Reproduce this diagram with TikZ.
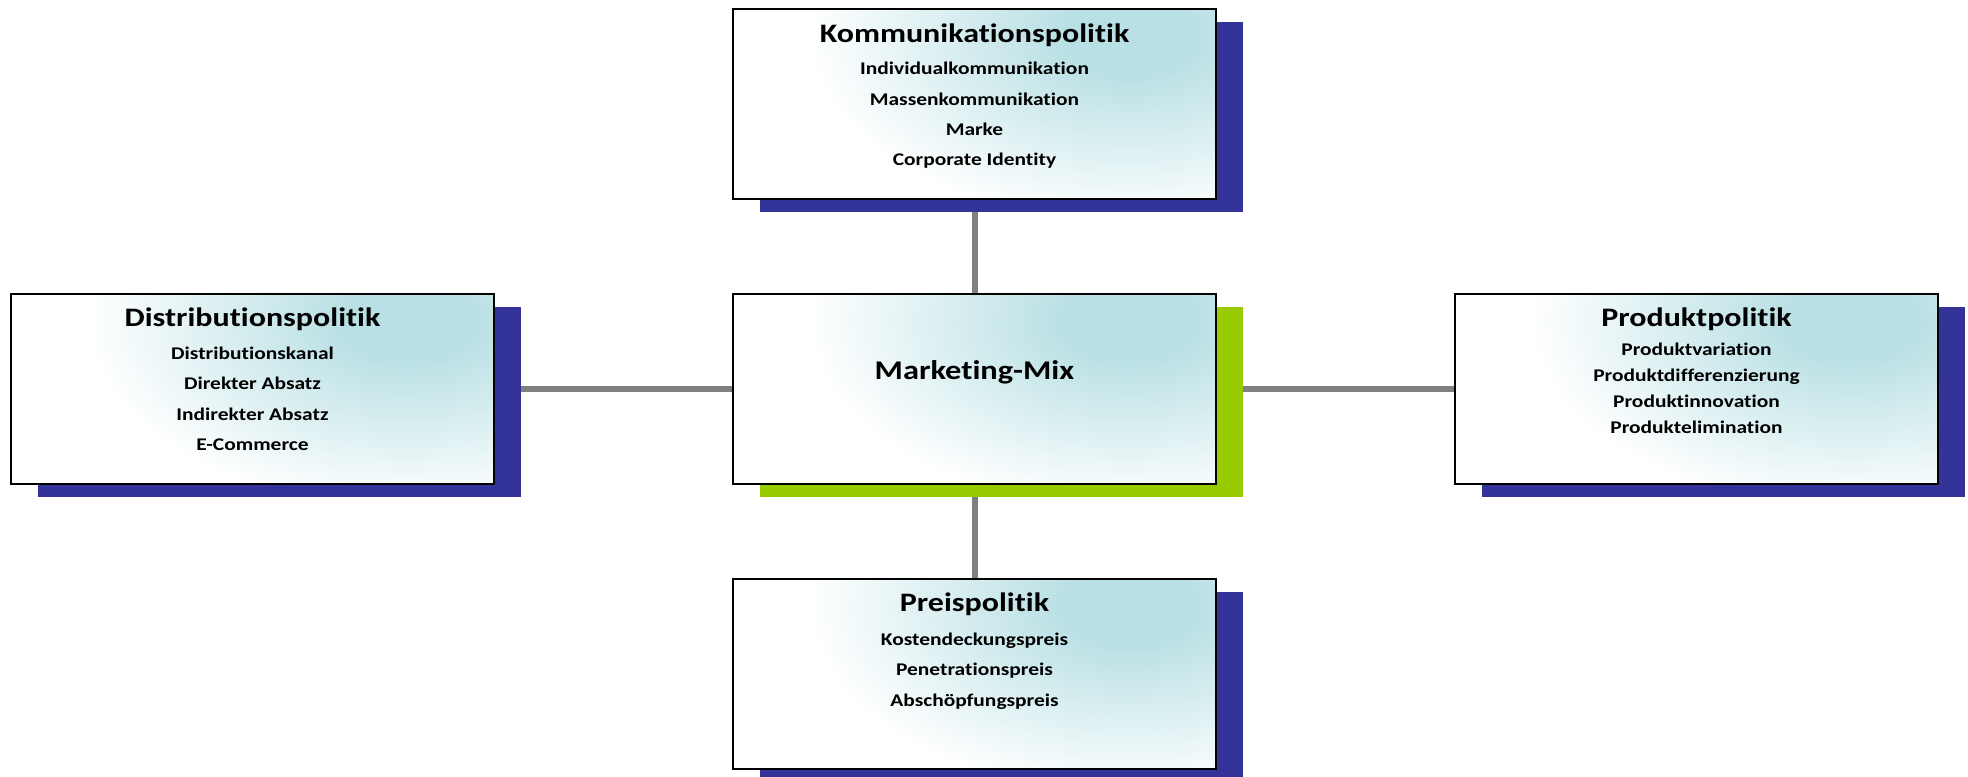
\documentclass[tikz,border=0pt]{standalone}
\usepackage{fontspec}
\setmainfont{Carlito}[FakeStretch=1.2, Ligatures=NoCommon]
\usetikzlibrary{positioning, shadows, backgrounds}
\definecolor{shadowblue}{RGB}{51,51,153}
\definecolor{mixgreen}{RGB}{153,204,0}
\definecolor{glowteal}{RGB}{185,224,228}
\definecolor{linkgray}{RGB}{128,128,128}
\pgfdeclareradialshading{boxglow}{\pgfpointorigin}{color(0bp)=(glowteal); color(4bp)=(glowteal); color(20bp)=(white); color(50bp)=(white)}

\begin{document}
\begin{tikzpicture}[x=0.75pt, y=-0.75pt,
	box/.style={draw=black, fill=white, line width=1.5pt, minimum width=362.25pt, minimum height=142.5pt, inner sep=0pt,
		path picture={\shade[shading=boxglow] ([xshift=-65pt, yshift=-20pt]path picture bounding box.north east) ellipse (300pt and 175pt);},
		drop shadow={shadow xshift=20.25pt, shadow yshift=-9.75pt, fill=#1, opacity=1}},
	box/.default=shadowblue,
	boxtext/.style={align=center, inner sep=0pt, font=\bfseries\fontsize{13.4}{22.6}\selectfont},
	link/.style={draw=linkgray, line width=4.5pt}]
		\useasboundingbox (0,0) rectangle (1968,777);
		
		% boxes
		\node[box] (komm) at (974.5,104) {};
		\node[box=mixgreen] (mix) at (974.5,389) {};
		\node[box] (dist) at (252.5,389) {};
		\node[box] (prod) at (1696.5,389) {};
		\node[box] (preis) at (974.5,674) {};
		
		% texts
		\node[boxtext, below=11.5pt of komm.north] (kommtext) {{\fontsize{20}{24}\selectfont Kommunikationspolitik}\\[1.85pt]
			Individualkommunikation\\ Massenkommunikation\\ Marke\\ Corporate Identity};
		\node[boxtext, below=50.3pt of mix.north] (mixtext) {\fontsize{20.25}{24}\selectfont Marketing-Mix};
		\node[boxtext, below=10.6pt of dist.north] (disttext) {{\fontsize{20}{24}\selectfont Distributionspolitik}\\[2.65pt]
			Distributionskanal\\ Direkter Absatz\\ Indirekter Absatz\\ E-Commerce};
		\node[boxtext, font=\bfseries\fontsize{13.4}{19.5}\selectfont, below=10.6pt of prod.north] (prodtext) {{\fontsize{20}{24}\selectfont Produktpolitik}\\[2.5pt]
			Produktvariation\\ Produktdifferenzierung\\ Produktinnovation\\ Produktelimination};
		\node[boxtext, below=10.6pt of preis.north] (preistext) {{\fontsize{20}{24}\selectfont Preispolitik}\\[3.4pt]
			Kostendeckungspreis\\ Penetrationspreis\\ Abschöpfungspreis};
		
		% connectors
		\begin{scope}[on background layer]
			\draw[link] (mix) -- (komm);
			\draw[link] (mix) -- (dist);
			\draw[link] (mix) -- (prod);
			\draw[link] (mix) -- (preis);
		\end{scope}
\end{tikzpicture}
\end{document}
